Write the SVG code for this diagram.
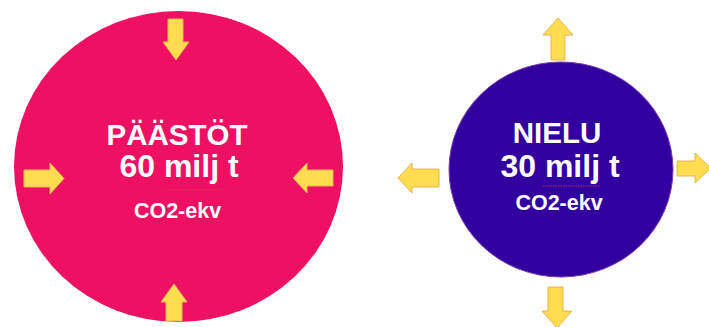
<svg xmlns="http://www.w3.org/2000/svg" width="709" height="327" viewBox="0 0 709 327">
  <style>
    .arrow { fill: #FFDC50; stroke: #E6B450; stroke-width: 1; stroke-linejoin: miter; }
    .label { fill: #FFFFFF; font-family: "Liberation Sans", Arial, sans-serif; font-weight: bold; text-anchor: middle; }
    .squiggle { fill: none; stroke: #D0404A; stroke-width: 0.8; stroke-dasharray: 1.5 1; }
  </style>
  <rect width="709" height="327" fill="#FFFFFF"/>

  <!-- Emissions -->
  <g id="emissions">
    <ellipse cx="178.5" cy="166.5" rx="164.5" ry="155.5" fill="#EE1163"/>
    <text class="label" x="177" y="145" font-size="29.5">PÄÄSTÖT</text>
    <text class="label" x="179" y="177" font-size="32">60 milj t</text>
    <path class="squiggle" d="M163,190 H222"/>
    <text class="label" x="177.5" y="218" font-size="21.5">CO2-ekv</text>
  </g>

  <!-- Sink -->
  <g id="sink">
    <ellipse cx="561" cy="169.5" rx="112" ry="107.5" fill="#3300A0" stroke="#7A3AB0" stroke-width="1"/>
    <text class="label" x="557" y="143" font-size="29.5">NIELU</text>
    <text class="label" x="560" y="177" font-size="32">30 milj t</text>
    <path class="squiggle" d="M543,186 H600"/>
    <text class="label" x="559" y="210" font-size="21.5">CO2-ekv</text>
  </g>

  <!-- Arrows pointing in / out -->
  <g id="connectors">
    <path class="arrow" d="M168,19 H183 V42 H189 L176,60 L163,42 H168 Z"/>
    <path class="arrow" d="M174,284 L187,302 H182 V321 H166 V302 H161 Z"/>
    <path class="arrow" d="M24,170 H50 V163 L64,178.5 L50,194 V187 H24 Z"/>
    <path class="arrow" d="M333,170 H307 V163 L293,178 L307,193 V186 H333 Z"/>

    <path class="arrow" d="M439,169 H412 V163 L398,178 L412,193 V187 H439 Z"/>
    <path class="arrow" d="M558,18 L573,35 H565 V60 H551 V35 H543 Z"/>
    <path class="arrow" d="M677,161 H695 V153 L711,168 L695,183 V176 H677 Z"/>
    <path class="arrow" d="M548,287 H563 V311 H572 L557,328 L542,311 H548 Z"/>
  </g>
</svg>
